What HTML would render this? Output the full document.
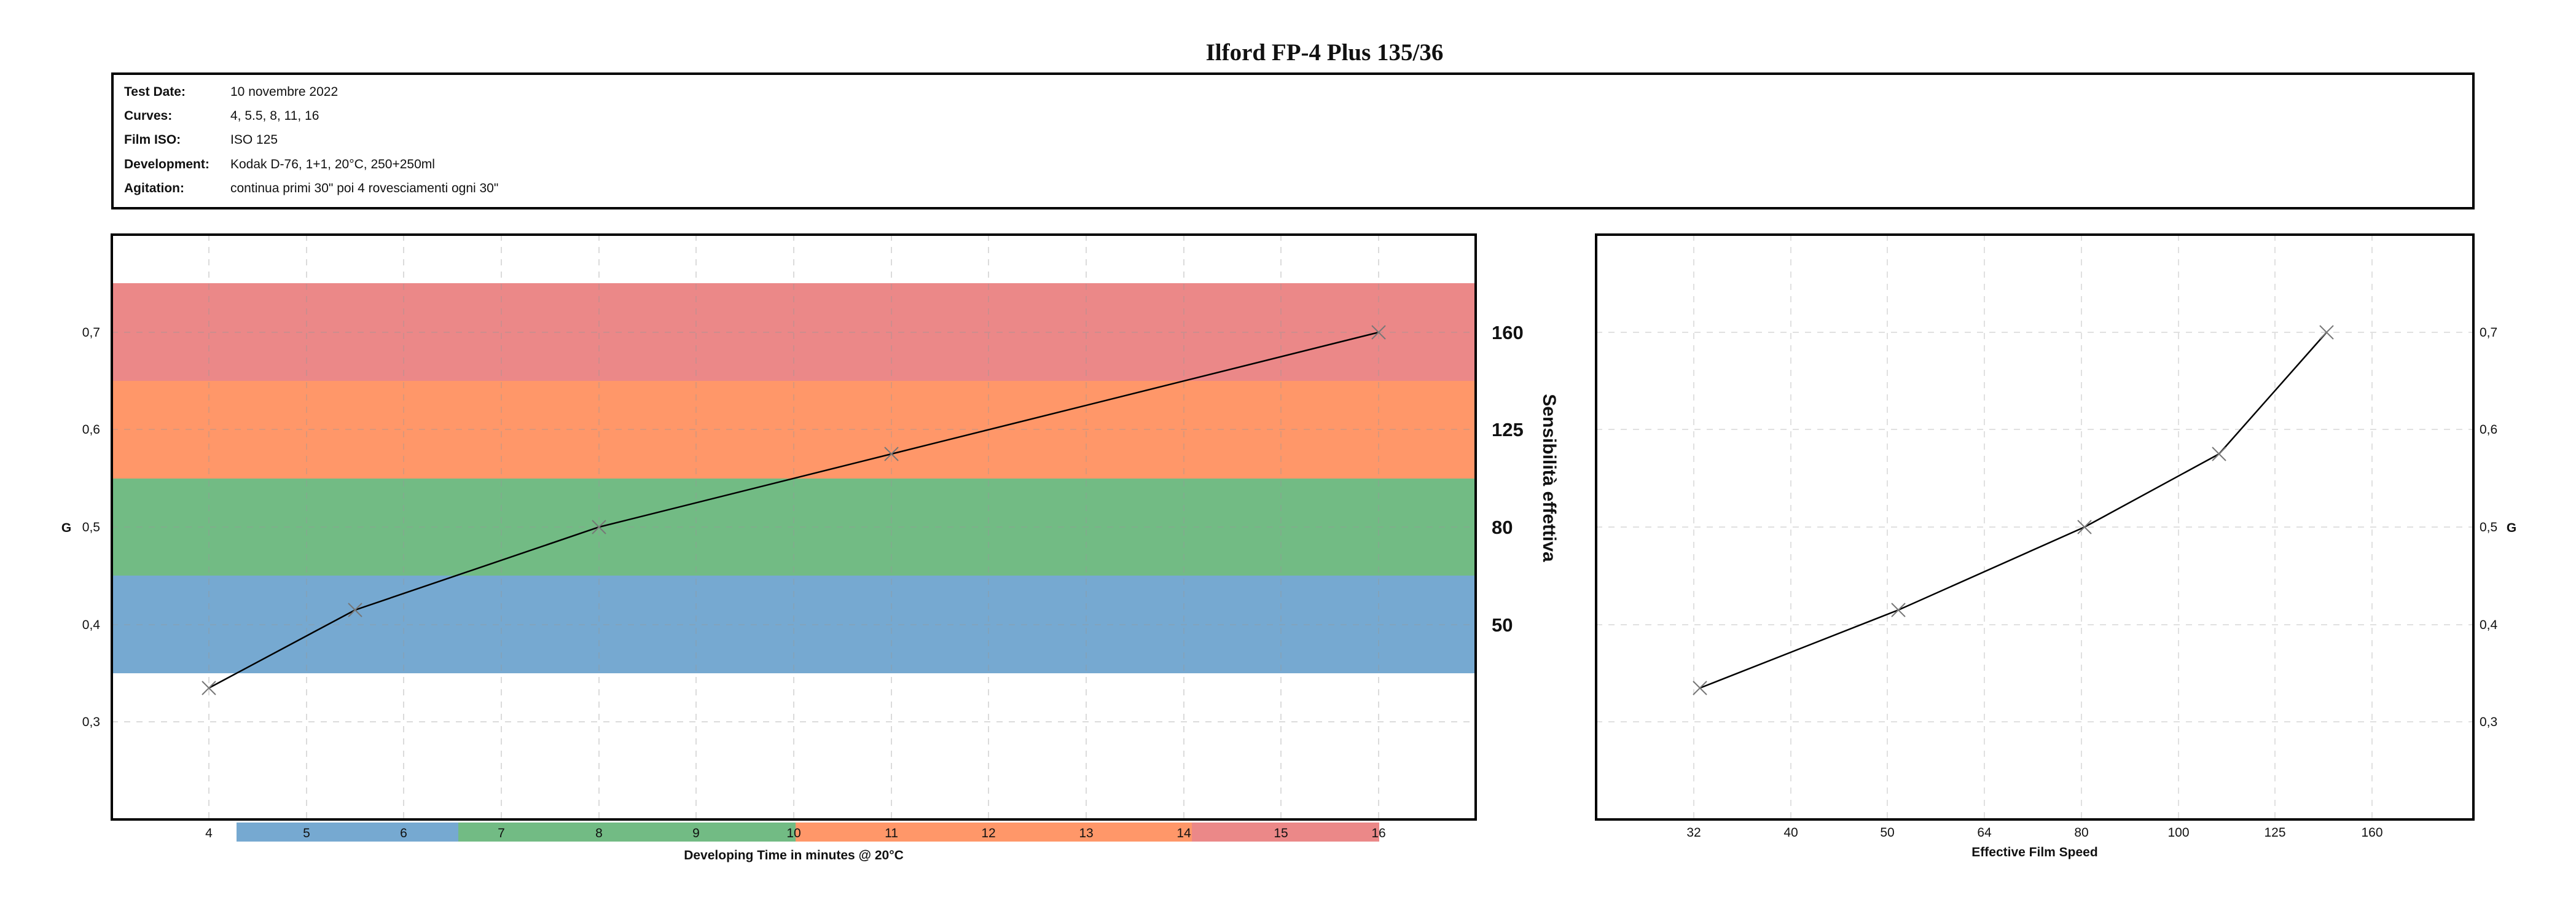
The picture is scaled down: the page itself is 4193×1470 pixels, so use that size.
<!DOCTYPE html>
<html><head><meta charset="utf-8"><style>
html,body{margin:0;padding:0;background:#fff}
svg{display:block}
text{font-family:"Liberation Sans",Arial,sans-serif;fill:#111}
</style></head><body>
<svg width="4193" height="1470" viewBox="0 0 4193 1470" xmlns="http://www.w3.org/2000/svg">
<rect width="4193" height="1470" fill="#fff"/>
<text x="2156" y="98" text-anchor="middle" style="font-family:'Liberation Serif',serif;font-weight:bold;font-size:39px">Ilford FP-4 Plus 135/36</text>

<rect x="183" y="120" width="3843" height="219" fill="none" stroke="#000" stroke-width="4"/>
<g font-size="21">
<text x="202" y="156" font-weight="bold">Test Date:</text><text x="375" y="156">10 novembre 2022</text>
<text x="202" y="195" font-weight="bold">Curves:</text><text x="375" y="195">4, 5.5, 8, 11, 16</text>
<text x="202" y="234" font-weight="bold">Film ISO:</text><text x="375" y="234">ISO 125</text>
<text x="202" y="274" font-weight="bold">Development:</text><text x="375" y="274">Kodak D-76, 1+1, 20°C, 250+250ml</text>
<text x="202" y="313" font-weight="bold">Agitation:</text><text x="375" y="313">continua primi 30" poi 4 rovesciamenti ogni 30"</text>
</g>

<!-- Left chart -->
<g>
<rect x="182" y="461" width="2220" height="159" fill="#eb8888"/>
<rect x="182" y="620" width="2220" height="159" fill="#ff9769"/>
<rect x="182" y="779" width="2220" height="158" fill="#72bb84"/>
<rect x="182" y="937" width="2220" height="159" fill="#76a9d1"/>
<g stroke="#999" stroke-opacity="0.35" stroke-width="2" stroke-dasharray="10,10">
<line x1="340" y1="382" x2="340" y2="1334"/><line x1="499" y1="382" x2="499" y2="1334"/><line x1="657" y1="382" x2="657" y2="1334"/><line x1="816" y1="382" x2="816" y2="1334"/><line x1="975" y1="382" x2="975" y2="1334"/><line x1="1133" y1="382" x2="1133" y2="1334"/><line x1="1292" y1="382" x2="1292" y2="1334"/><line x1="1451" y1="382" x2="1451" y2="1334"/><line x1="1609" y1="382" x2="1609" y2="1334"/><line x1="1768" y1="382" x2="1768" y2="1334"/><line x1="1927" y1="382" x2="1927" y2="1334"/><line x1="2085" y1="382" x2="2085" y2="1334"/><line x1="2244" y1="382" x2="2244" y2="1334"/>
<line x1="182" y1="1175" x2="2402" y2="1175"/><line x1="182" y1="1017" x2="2402" y2="1017"/><line x1="182" y1="858" x2="2402" y2="858"/><line x1="182" y1="699" x2="2402" y2="699"/><line x1="182" y1="541" x2="2402" y2="541"/>
</g>
<polyline points="340,1120 578,993 975,858 1451,739 2244,541" fill="none" stroke="#000" stroke-width="2.5"/>
<g stroke="#777" stroke-width="2">
<path d="M329 1109L351 1131M351 1109L329 1131"/><path d="M567 982L589 1004M589 982L567 1004"/><path d="M964 847L986 869M986 847L964 869"/><path d="M1440 728L1462 750M1462 728L1440 750"/><path d="M2233 530L2255 552M2255 530L2233 552"/>
</g>
<rect x="182" y="382" width="2220" height="952" fill="none" stroke="#000" stroke-width="4"/>
<g font-size="21" text-anchor="end">
<text x="163" y="548">0,7</text><text x="163" y="706">0,6</text><text x="163" y="865">0,5</text><text x="163" y="1024">0,4</text><text x="163" y="1182">0,3</text>
</g>
<text x="108" y="866" font-size="21" font-weight="bold" text-anchor="middle">G</text>
<g font-size="31" font-weight="bold">
<text x="2428" y="552">160</text><text x="2428" y="710">125</text><text x="2428" y="869">80</text><text x="2428" y="1028">50</text>
</g>
<text transform="translate(2512,778) rotate(90)" font-size="30" font-weight="bold" text-anchor="middle">Sensibilità effettiva</text>

<rect x="385" y="1339" width="361" height="31" fill="#76a9d1"/>
<rect x="746" y="1339" width="549" height="31" fill="#72bb84"/>
<rect x="1295" y="1339" width="645" height="31" fill="#ff9769"/>
<rect x="1940" y="1339" width="305" height="31" fill="#eb8888"/>
<g font-size="21" text-anchor="middle">
<text x="340" y="1363">4</text><text x="499" y="1363">5</text><text x="657" y="1363">6</text><text x="816" y="1363">7</text><text x="975" y="1363">8</text><text x="1133" y="1363">9</text><text x="1292" y="1363">10</text><text x="1451" y="1363">11</text><text x="1609" y="1363">12</text><text x="1768" y="1363">13</text><text x="1927" y="1363">14</text><text x="2085" y="1363">15</text><text x="2244" y="1363">16</text>
</g>
<text x="1292" y="1399" font-size="21" font-weight="bold" text-anchor="middle">Developing Time in minutes @ 20°C</text>
</g>

<!-- Right chart -->
<g>
<g stroke="#999" stroke-opacity="0.3" stroke-width="2" stroke-dasharray="10,10">
<line x1="2757" y1="382" x2="2757" y2="1334"/><line x1="2915" y1="382" x2="2915" y2="1334"/><line x1="3072" y1="382" x2="3072" y2="1334"/><line x1="3230" y1="382" x2="3230" y2="1334"/><line x1="3388" y1="382" x2="3388" y2="1334"/><line x1="3546" y1="382" x2="3546" y2="1334"/><line x1="3703" y1="382" x2="3703" y2="1334"/><line x1="3861" y1="382" x2="3861" y2="1334"/>
<line x1="2598" y1="1175" x2="4026" y2="1175"/><line x1="2598" y1="1017" x2="4026" y2="1017"/><line x1="2598" y1="858" x2="4026" y2="858"/><line x1="2598" y1="699" x2="4026" y2="699"/><line x1="2598" y1="541" x2="4026" y2="541"/>
</g>
<polyline points="2767,1120 3090,993 3393,858 3612,739 3787,541" fill="none" stroke="#000" stroke-width="2.5"/>
<g stroke="#777" stroke-width="2">
<path d="M2756 1109L2778 1131M2778 1109L2756 1131"/><path d="M3079 982L3101 1004M3101 982L3079 1004"/><path d="M3382 847L3404 869M3404 847L3382 869"/><path d="M3601 728L3623 750M3623 728L3601 750"/><path d="M3776 530L3798 552M3798 530L3776 552"/>
</g>
<rect x="2598" y="382" width="1428" height="952" fill="none" stroke="#000" stroke-width="4"/>
<g font-size="21">
<text x="4036" y="548">0,7</text><text x="4036" y="706">0,6</text><text x="4036" y="865">0,5</text><text x="4036" y="1024">0,4</text><text x="4036" y="1182">0,3</text>
</g>
<text x="4088" y="866" font-size="21" font-weight="bold" text-anchor="middle">G</text>
<g font-size="21" text-anchor="middle">
<text x="2757" y="1362">32</text><text x="2915" y="1362">40</text><text x="3072" y="1362">50</text><text x="3230" y="1362">64</text><text x="3388" y="1362">80</text><text x="3546" y="1362">100</text><text x="3703" y="1362">125</text><text x="3861" y="1362">160</text>
</g>
<text x="3312" y="1394" font-size="21" font-weight="bold" text-anchor="middle">Effective Film Speed</text>
</g>
</svg>
</body></html>
